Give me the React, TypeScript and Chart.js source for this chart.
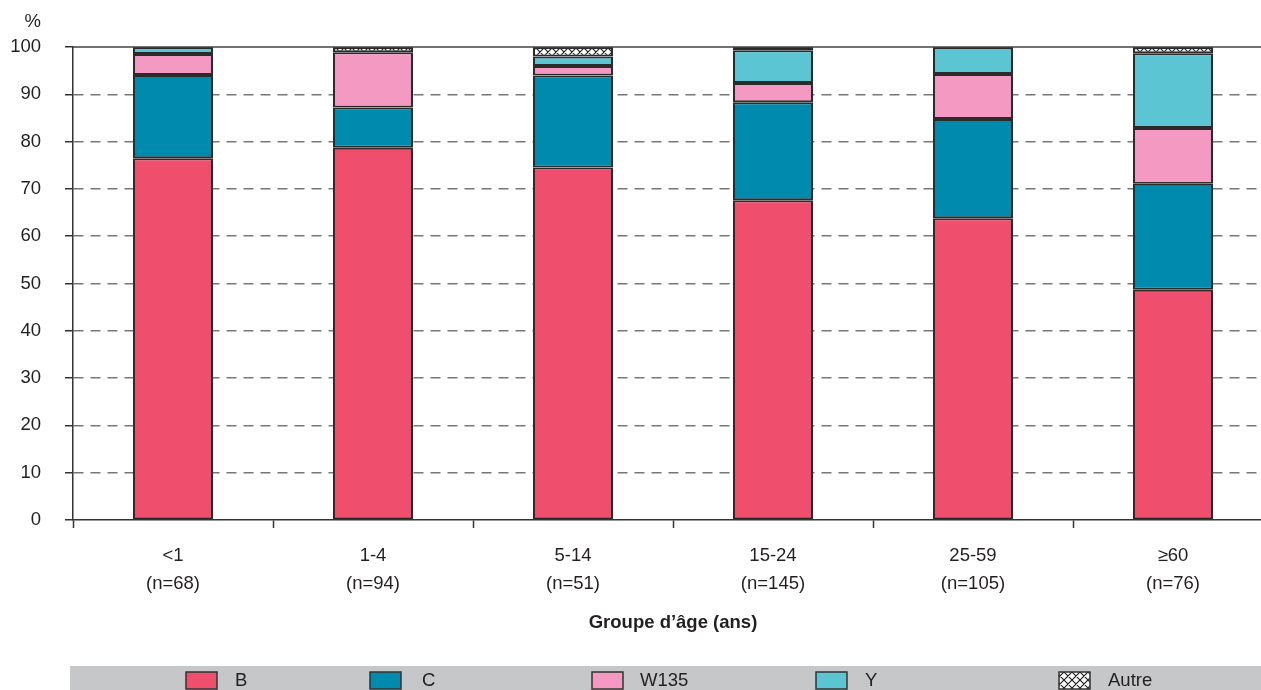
import React, { useEffect, useRef } from "react";
import { Chart, registerables } from "chart.js";

Chart.register(...registerables);

const categories: string[][] = [
  ["<1", "(n=68)"],
  ["1-4", "(n=94)"],
  ["5-14", "(n=51)"],
  ["15-24", "(n=145)"],
  ["25-59", "(n=105)"],
  ["≥60", "(n=76)"],
];

const seriesB = [76.5, 78.7, 74.5, 67.6, 63.8, 48.7];
const seriesC = [17.6, 8.5, 19.5, 20.7, 21.0, 22.4];
const seriesW135 = [4.4, 11.7, 2.0, 4.1, 9.5, 11.8];
const seriesY = [1.5, 0, 2.0, 6.9, 5.7, 15.8];
const seriesAutre = [0, 1.1, 2.0, 0.7, 0, 1.3];

const seriesNames = ["B", "C", "W135", "Y", "Autre"];
const yTicks = [0, 10, 20, 30, 40, 50, 60, 70, 80, 90, 100];
const xTitle = "Groupe d’âge (ans)";
const yUnit = "%";

const FONT = "'Liberation Sans', Arial, Helvetica, sans-serif";
const TEXT = "#231F20";

function makeHatch(): CanvasPattern | string {
  const c = document.createElement("canvas");
  c.width = 8;
  c.height = 8;
  const g = c.getContext("2d");
  if (!g) return "#ffffff";
  g.fillStyle = "#ffffff";
  g.fillRect(0, 0, 8, 8);
  g.strokeStyle = "#222222";
  g.lineWidth = 1.2;
  g.beginPath();
  g.moveTo(0, 0);
  g.lineTo(8, 8);
  g.moveTo(8, 0);
  g.lineTo(0, 8);
  g.moveTo(-1, 7);
  g.lineTo(1, 9);
  g.moveTo(7, -1);
  g.lineTo(9, 1);
  g.moveTo(-1, 1);
  g.lineTo(1, -1);
  g.moveTo(7, 9);
  g.lineTo(9, 7);
  g.stroke();
  const p = g.createPattern(c, "repeat");
  return p || "#ffffff";
}

export default function App() {
  const ref = useRef<HTMLCanvasElement | null>(null);

  useEffect(() => {
    if (!ref.current) return;
    const hatch = makeHatch();
    const colors: (string | CanvasPattern)[] = ["#EF4F6C", "#008AAD", "#F49AC2", "#5BC5D4", hatch];
    const values = [seriesB, seriesC, seriesW135, seriesY, seriesAutre];

    const extras = {
      id: "extras",
      afterDraw(chart: any) {
        const ctx = chart.ctx as CanvasRenderingContext2D;
        const area = chart.chartArea;
        const ys = chart.scales.y;
        ctx.save();
        const yTop = ys.getPixelForValue(100);
        ctx.strokeStyle = "#444444";
        ctx.lineWidth = 1.5;
        ctx.beginPath();
        ctx.moveTo(area.left, yTop);
        ctx.lineTo(chart.width, yTop);
        ctx.stroke();
        ctx.fillStyle = TEXT;
        ctx.font = `18.5px ${FONT}`;
        ctx.textAlign = "right";
        ctx.textBaseline = "middle";
        ctx.fillText(yUnit, 41, 22);
        ctx.fillStyle = "#C6C7C9";
        ctx.fillRect(70, 666, chart.width - 70, 30);
        const boxX = [186, 370, 592, 816, 1059];
        const textX = [235, 422, 640, 865, 1108];
        chart.data.datasets.forEach((ds: any, i: number) => {
          ctx.fillStyle = ds.backgroundColor;
          ctx.fillRect(boxX[i], 672, 31, 17);
          ctx.strokeStyle = "#333333";
          ctx.lineWidth = 1.5;
          ctx.strokeRect(boxX[i], 672, 31, 17);
          ctx.fillStyle = TEXT;
          ctx.textAlign = "left";
          ctx.textBaseline = "middle";
          ctx.font = `18.5px ${FONT}`;
          ctx.fillText(ds.label, textX[i], 681);
        });
        ctx.restore();
      },
    };

    const chart = new Chart(ref.current, {
      type: "bar",
      data: {
        labels: categories,
        datasets: seriesNames.map((name, i) => ({
          label: name,
          data: values[i],
          backgroundColor: colors[i] as any,
          borderColor: "#2B2B2B",
          borderWidth: 2,
          borderSkipped: false,
          categoryPercentage: 0.4,
          barPercentage: 1,
        })),
      },
      options: {
        animation: false,
        responsive: true,
        maintainAspectRatio: false,
        layout: { padding: { left: 0, right: 7, top: 47, bottom: 40 } },
        plugins: {
          legend: { display: false },
          tooltip: { enabled: false },
        },
        scales: {
          x: {
            stacked: true,
            offset: true,
            grid: {
              display: true,
              offset: true,
              drawOnChartArea: false,
              drawTicks: true,
              tickLength: 8,
              tickColor: "#333333",
              tickWidth: 1.5,
              color: "#333333",
            },
            border: { display: true, color: "#333333", width: 1.5 },
            ticks: {
              color: TEXT,
              padding: 14,
              font: { family: FONT, size: 18.5, lineHeight: 1.5 },
              maxRotation: 0,
              autoSkip: false,
            },
            title: {
              display: true,
              text: xTitle,
              color: TEXT,
              font: { family: FONT, size: 18.5, weight: "bold", lineHeight: 1.2 },
              padding: { top: 0, bottom: 16 },
            },
            afterFit(scale: any) {
              scale.height = 130;
            },
          },
          y: {
            stacked: true,
            min: 0,
            max: 100,
            afterBuildTicks(scale: any) {
              scale.ticks = yTicks.map((v) => ({ value: v }));
            },
            grid: {
              drawTicks: true,
              tickLength: 8,
              tickColor: "#333333",
              tickWidth: 1.5,
              tickBorderDash: [],
              lineWidth: 1.5,
              color: (c: any) => {
                const v = c.tick ? c.tick.value : -1;
                return v === 0 || v === 100 ? "rgba(0,0,0,0)" : "#777777";
              },
            },
            border: { display: true, color: "#333333", width: 1.5, dash: [10, 7] },
            ticks: {
              color: TEXT,
              padding: 24,
              font: { family: FONT, size: 18.5 },
            },
            afterFit(scale: any) {
              scale.width = 73;
            },
          },
        },
      },
      plugins: [extras],
    });
    return () => chart.destroy();
  }, []);

  return (
    <div
      style={{
        position: "absolute",
        left: 0,
        top: 0,
        width: 1261,
        height: 690,
        overflow: "hidden",
        background: "#ffffff",
      }}
    >
      <div style={{ position: "relative", width: 1280, height: 690 }}>
        <canvas ref={ref} />
      </div>
    </div>
  );
}
